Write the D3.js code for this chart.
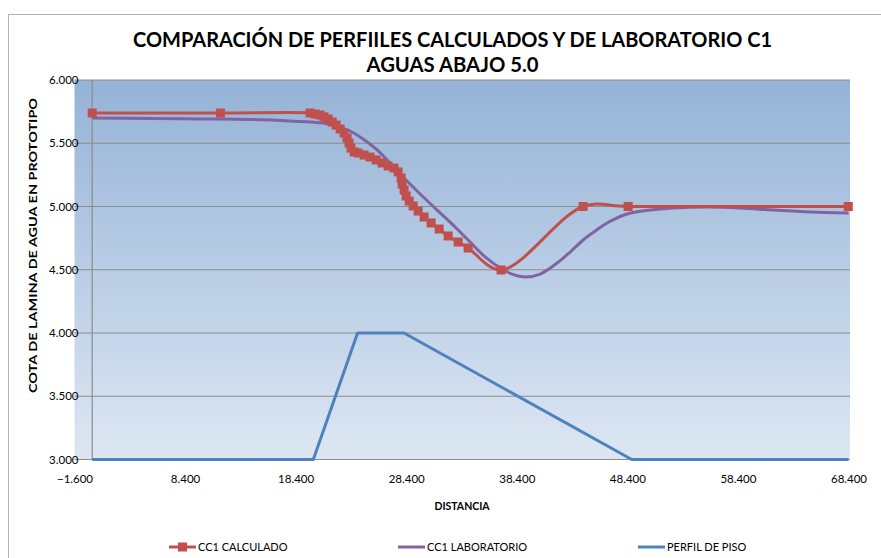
<!DOCTYPE html>
<html>
<head>
<meta charset="utf-8">
<script src="https://cdn.jsdelivr.net/npm/d3@7"></script>
<style>
  html, body { margin: 0; padding: 0; background: #ffffff; }
  svg { display: block; }
  text { font-family: Lato, "Liberation Sans", Arial, sans-serif; fill: #000; }
</style>
</head>
<body>
<svg id="chart" width="881" height="558"></svg>
<script>
// Perfil calculado (CC1 CALCULADO): distancia / cota
const calcX = [0.0, 11.6, 19.70, 20.16, 20.61, 20.97, 21.33, 21.70, 22.06, 22.42,
  22.78, 23.05, 23.23, 23.41, 23.69, 24.05, 24.59, 25.13, 25.68, 26.22,
  26.76, 27.30, 27.67, 27.94, 28.03, 28.21, 28.39, 28.67, 29.03, 29.48,
  30.02, 30.65, 31.38, 32.19, 33.10, 34.00, 36.98, 44.40, 48.47, 68.38];
const calcY = [5.739, 5.739, 5.739, 5.731, 5.723, 5.708, 5.692, 5.668, 5.644, 5.613,
  5.581, 5.542, 5.502, 5.462, 5.431, 5.423, 5.407, 5.391, 5.368, 5.344,
  5.320, 5.304, 5.273, 5.225, 5.178, 5.130, 5.083, 5.043, 5.004, 4.964,
  4.917, 4.870, 4.822, 4.767, 4.719, 4.672, 4.498, 5.000, 5.000, 5.000];

// Perfil medido en laboratorio (CC1 LABORATORIO)
const labX = [0.0, 5.23, 9.75, 14.28, 17.90, 20.88, 22.42, 23.32, 24.50, 25.77,
  26.67, 28.12, 29.66, 31.19, 32.82, 34.18, 35.54, 36.90, 37.98, 39.16,
  40.51, 42.05, 43.23, 44.40, 45.49, 46.57, 48.38, 50.46, 52.54, 55.61,
  58.60, 61.59, 64.94, 68.40];
const labY = [5.700, 5.696, 5.692, 5.688, 5.676, 5.660, 5.628, 5.597, 5.534, 5.447,
  5.368, 5.233, 5.099, 4.972, 4.838, 4.719, 4.601, 4.514, 4.466, 4.443,
  4.466, 4.553, 4.640, 4.735, 4.806, 4.870, 4.941, 4.972, 4.988, 4.996,
  4.988, 4.972, 4.957, 4.949];

// Perfil de piso
const pisoX = [0.0, 20.0, 24.0, 28.2, 48.8, 68.4];
const pisoY = [3.0, 3.0, 4.0, 4.0, 3.0, 3.0];

// Ejes
const xTicks = [-1.6, 8.4, 18.4, 28.4, 38.4, 48.4, 58.4, 68.4];
const yTicks = [3.0, 3.5, 4.0, 4.5, 5.0, 5.5, 6.0];

const titleLines = ["COMPARACIÓN DE PERFIILES CALCULADOS Y DE LABORATORIO C1", "AGUAS ABAJO 5.0"];
const yTitle = "COTA  DE LAMINA DE AGUA EN PROTOTIPO";
const xTitle = "DISTANCIA";
const seriesNames = ["CC1 CALCULADO", "CC1 LABORATORIO", "PERFIL DE PISO"];
const seriesColors = ["#c0504d", "#8064a2", "#4f81bd"];

const svg = d3.select("#chart");

const plot = { left: 74.5, right: 848.5, top: 80, bottom: 459.5 };
const x = d3.scaleLinear().domain([-1.6, 68.4]).range([plot.left, plot.right]);
const y = d3.scaleLinear().domain([3, 6]).range([plot.bottom, plot.top]);
const fmt = d3.format(".3f");

// Marco del área del gráfico
svg.append("rect")
  .attr("x", 8.5).attr("y", 14.5)
  .attr("width", 900).attr("height", 600)
  .attr("fill", "#fff").attr("stroke", "#b4b4b4").attr("stroke-width", 1);

// Fondo degradado del área de trazado
const defs = svg.append("defs");
const grad = defs.append("linearGradient")
  .attr("id", "bg").attr("x1", 0).attr("y1", 0).attr("x2", 0).attr("y2", 1);
grad.append("stop").attr("offset", "0%").attr("stop-color", "#95b3d7");
grad.append("stop").attr("offset", "100%").attr("stop-color", "#dde7f3");

svg.append("rect")
  .attr("x", plot.left).attr("y", plot.top)
  .attr("width", 850 - plot.left).attr("height", plot.bottom - plot.top)
  .attr("fill", "url(#bg)");

// Líneas de división horizontales
svg.append("g")
  .selectAll("line")
  .data(yTicks)
  .join("line")
  .attr("x1", plot.left).attr("x2", 850)
  .attr("y1", d => y(d)).attr("y2", d => y(d))
  .attr("stroke", "#8c8c8c").attr("stroke-width", 1.2);

// Eje vertical en distancia 0
svg.append("line")
  .attr("x1", x(0)).attr("x2", x(0))
  .attr("y1", plot.top).attr("y2", plot.bottom)
  .attr("stroke", "#8c8c8c").attr("stroke-width", 1.2);

// Etiquetas del eje Y
const yAxis = d3.axisLeft(y).tickValues(yTicks).tickFormat(fmt).tickSize(0).tickPadding(0);
svg.append("g")
  .attr("transform", `translate(${plot.left + 4},0)`)
  .call(yAxis)
  .call(g => g.select(".domain").remove())
  .call(g => g.selectAll("text")
    .attr("font-size", 11.5)
    .attr("font-family", "Lato, 'Liberation Sans', sans-serif")
    .attr("fill", "#000"));

// Etiquetas del eje X
const xAxis = d3.axisBottom(x).tickValues(xTicks).tickFormat(fmt).tickSize(0).tickPadding(0);
svg.append("g")
  .attr("transform", `translate(0,${plot.bottom + 15})`)
  .call(xAxis)
  .call(g => g.select(".domain").remove())
  .call(g => g.selectAll("text")
    .attr("font-size", 11.5)
    .attr("font-family", "Lato, 'Liberation Sans', sans-serif")
    .attr("fill", "#000"));

// Series
const calc = calcX.map((d, i) => ({ x: d, y: calcY[i] }));
const lab = labX.map((d, i) => ({ x: d, y: labY[i] }));
const piso = pisoX.map((d, i) => ({ x: d, y: pisoY[i] }));

const smooth = d3.line().x(d => x(d.x)).y(d => y(d.y)).curve(d3.curveCatmullRom.alpha(0.5));
const straight = d3.line().x(d => x(d.x)).y(d => y(d.y));

svg.append("path").datum(piso)
  .attr("d", straight)
  .attr("fill", "none").attr("stroke", seriesColors[2])
  .attr("stroke-width", 3).attr("stroke-linejoin", "round");

svg.append("path").datum(lab)
  .attr("d", smooth)
  .attr("fill", "none").attr("stroke", seriesColors[1])
  .attr("stroke-width", 3).attr("stroke-linejoin", "round");

svg.append("path").datum(calc)
  .attr("d", smooth)
  .attr("fill", "none").attr("stroke", seriesColors[0])
  .attr("stroke-width", 3).attr("stroke-linejoin", "round");

const ms = 9;
svg.append("g")
  .selectAll("rect")
  .data(calc)
  .join("rect")
  .attr("x", d => x(d.x) - ms / 2).attr("y", d => y(d.y) - ms / 2)
  .attr("width", ms).attr("height", ms)
  .attr("fill", seriesColors[0]);

// Títulos
const title = svg.append("g").attr("font-weight", "bold");
title.append("text")
  .attr("x", 452.5).attr("y", 47)
  .attr("text-anchor", "middle")
  .attr("font-size", 20.5)
  .attr("textLength", 639).attr("lengthAdjust", "spacingAndGlyphs")
  .text(titleLines[0]);
title.append("text")
  .attr("x", 452.5).attr("y", 72)
  .attr("text-anchor", "middle")
  .attr("font-size", 20.5)
  .attr("textLength", 172).attr("lengthAdjust", "spacingAndGlyphs")
  .text(titleLines[1]);

svg.append("text")
  .attr("transform", "translate(37,245.5) rotate(-90)")
  .attr("text-anchor", "middle")
  .attr("font-size", 10.5).attr("font-weight", "bold")
  .attr("textLength", 295).attr("lengthAdjust", "spacingAndGlyphs")
  .text(yTitle);

svg.append("text")
  .attr("x", 462).attr("y", 510)
  .attr("text-anchor", "middle")
  .attr("font-size", 10.5).attr("font-weight", "bold")
  .text(xTitle);

// Leyenda
const legendX = [169, 398, 638];
const legend = svg.append("g");
seriesNames.forEach((name, i) => {
  const g = legend.append("g").attr("transform", `translate(${legendX[i]},547)`);
  g.append("line")
    .attr("x1", 0).attr("x2", 27).attr("y1", 0).attr("y2", 0)
    .attr("stroke", seriesColors[i]).attr("stroke-width", 3);
  if (i === 0) {
    g.append("rect")
      .attr("x", 13.5 - ms / 2).attr("y", -ms / 2)
      .attr("width", ms).attr("height", ms)
      .attr("fill", seriesColors[0]);
  }
  g.append("text")
    .attr("x", 29).attr("y", 4)
    .attr("font-size", 11)
    .text(name);
});
</script>
</body>
</html>
